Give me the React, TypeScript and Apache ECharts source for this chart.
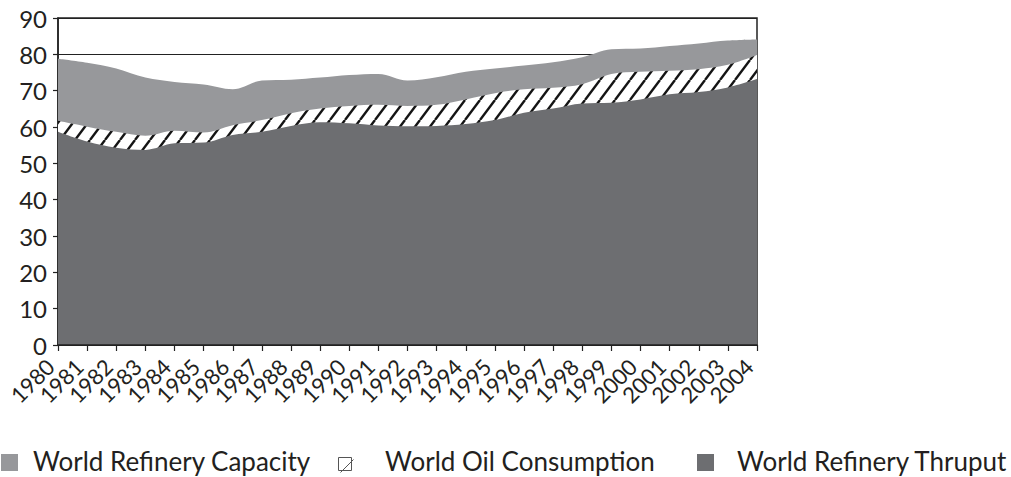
import React, { useEffect, useRef } from "react";
import * as echarts from "echarts";

const years = ["1980","1981","1982","1983","1984","1985","1986","1987","1988","1989","1990","1991","1992","1993","1994","1995","1996","1997","1998","1999","2000","2001","2002","2003","2004"];
const capacity = [78.8, 77.7, 76.1, 73.6, 72.4, 71.7, 70.4, 72.8, 73.0, 73.6, 74.3, 74.6, 72.8, 73.7, 75.2, 76.1, 76.9, 77.8, 79.2, 81.4, 81.6, 82.3, 83.0, 83.8, 84.1];
const consumption = [61.7, 60.1, 58.7, 57.6, 59.0, 58.5, 60.5, 61.9, 63.8, 65.1, 65.8, 66.1, 65.8, 66.1, 67.6, 69.3, 70.4, 70.8, 71.8, 74.6, 75.2, 75.5, 75.9, 77.1, 79.8];
const thruput = [58.7, 56.0, 54.3, 53.7, 55.5, 55.7, 57.8, 58.7, 60.3, 61.3, 61.0, 60.4, 60.2, 60.3, 60.8, 61.9, 63.9, 65.1, 66.5, 66.7, 67.6, 69.0, 69.6, 70.9, 73.2];
const yTicks = [0, 10, 20, 30, 40, 50, 60, 70, 80, 90];
const legendNames = ["World Refinery Capacity", "World Oil Consumption", "World Refinery Thruput"];

const FONT = "Lato";
const LIGHT = "#97989b";
const DARK = "#6d6e71";
const INK = "#231f20";

function makeHatch(): HTMLCanvasElement {
  const w = 15, h = 20;
  const c = document.createElement("canvas");
  c.width = w; c.height = h;
  const ctx = c.getContext("2d")!;
  ctx.fillStyle = "#ffffff";
  ctx.fillRect(0, 0, w, h);
  ctx.strokeStyle = "#141414";
  ctx.lineWidth = 2.4;
  for (const off of [-w, 0, w]) {
    ctx.beginPath();
    ctx.moveTo(off, h);
    ctx.lineTo(off + w, 0);
    ctx.stroke();
  }
  return c;
}

export default function App() {
  const ref = useRef<HTMLDivElement>(null);
  useEffect(() => {
    if (!ref.current) return;
    const chart = echarts.init(ref.current, null, { renderer: "svg" });
    const hatch = makeHatch();
    const legendY = 463;
    const legendText = (x: number, t: string) => ({
      type: "text", left: x, top: legendY - 15,
      style: { text: t, fontSize: 26, fontFamily: FONT, fill: INK },
    });
    chart.setOption({
      animation: false,
      textStyle: { fontFamily: FONT },
      grid: { left: 58, right: 254, top: 18, bottom: 132, show: true, borderColor: "#222", borderWidth: 1.5, backgroundColor: "transparent" },
      xAxis: {
        type: "category",
        data: years,
        boundaryGap: false,
        axisLine: { show: true, lineStyle: { color: "#222", width: 1.5 } },
        axisTick: { show: true, length: 6, lineStyle: { color: "#222", width: 1.2 }, alignWithLabel: true },
        axisLabel: { rotate: 45, interval: 0, fontSize: 22, color: INK, fontFamily: FONT, margin: 10, padding: [0, 11, 0, 0] },
        splitLine: { show: false },
        z: 10,
      },
      yAxis: {
        type: "value",
        min: 0,
        max: 90,
        interval: 10,
        axisLine: { show: true, lineStyle: { color: "#222", width: 1.5 } },
        axisTick: { show: true, length: 5, lineStyle: { color: "#222", width: 1.2 } },
        axisLabel: { fontSize: 24, color: INK, fontFamily: FONT, margin: 11,
          formatter: (v: number) => (yTicks.includes(v) ? String(v) : "") },
        splitLine: { show: true, lineStyle: { color: "#222", width: 1.2 } },
      },
      series: [
        {
          name: legendNames[0], type: "line", data: capacity, smooth: 0.35, symbol: "none",
          lineStyle: { width: 0 }, areaStyle: { color: LIGHT, opacity: 1 }, z: 2,
        },
        {
          name: legendNames[1], type: "line", data: consumption, smooth: 0.35, symbol: "none",
          lineStyle: { width: 0 }, areaStyle: { color: { image: hatch, repeat: "repeat" }, opacity: 1 }, z: 3,
        },
        {
          name: legendNames[2], type: "line", data: thruput, smooth: 0.35, symbol: "none",
          lineStyle: { width: 0 }, areaStyle: { color: DARK, opacity: 1 }, z: 4,
        },
      ],
      graphic: [
        { type: "rect", left: 1, top: legendY - 9, shape: { width: 17, height: 17 }, style: { fill: LIGHT } },
        legendText(33, legendNames[0]),
        { type: "rect", left: 338, top: legendY - 6, shape: { width: 13, height: 13 }, style: { fill: "#fff", stroke: "#555", lineWidth: 1 } },
        { type: "line", left: 338, top: legendY - 6, shape: { x1: 0, y1: 13, x2: 13, y2: 0 }, style: { stroke: "#555", lineWidth: 1 } },
        legendText(385, legendNames[1]),
        { type: "rect", left: 697, top: legendY - 9, shape: { width: 17, height: 17 }, style: { fill: DARK } },
        legendText(737, legendNames[2]),
      ],
    });
    return () => chart.dispose();
  }, []);
  return <div ref={ref} style={{ width: 1011, height: 477, position: "absolute", left: 0, top: 0 }} />;
}
